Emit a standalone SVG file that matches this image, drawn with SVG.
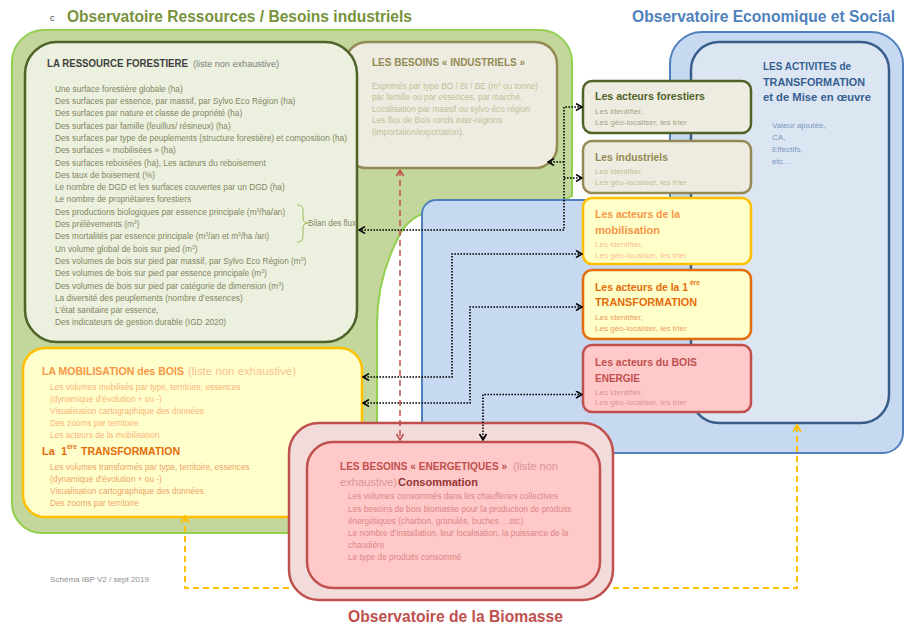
<svg xmlns="http://www.w3.org/2000/svg" width="906" height="625" viewBox="0 0 906 625">
<style>
text{font-family:"Liberation Sans",Arial,sans-serif}
.b{font-weight:bold}
.bd{font-size:8.3px}
.sm{font-size:8.1px}
.hd{font-size:11px;font-weight:bold}
.dot{fill:none;stroke:#000;stroke-width:1.6;stroke-dasharray:1.6 1.4}
.red{fill:none;stroke:#c0504d;stroke-width:1.5;stroke-dasharray:6 4}
.yel{fill:none;stroke:#ffc000;stroke-width:2;stroke-dasharray:6 4}
</style>
<defs>
<marker id="ak" viewBox="0 0 8 8" refX="7" refY="4" markerWidth="8" markerHeight="8" markerUnits="userSpaceOnUse" orient="auto-start-reverse"><path d="M1,0.5 L7,4 L1,7.5" fill="none" stroke="#000" stroke-width="1.5"/></marker>
<marker id="ar" viewBox="0 0 8 8" refX="7" refY="4" markerWidth="8" markerHeight="8" markerUnits="userSpaceOnUse" orient="auto-start-reverse"><path d="M1,0.5 L7,4 L1,7.5" fill="none" stroke="#c0504d" stroke-width="1.5"/></marker>
<marker id="ay" viewBox="0 0 8 8" refX="7" refY="4" markerWidth="9" markerHeight="9" markerUnits="userSpaceOnUse" orient="auto-start-reverse"><path d="M1,0.5 L7,4 L1,7.5" fill="none" stroke="#ffc000" stroke-width="1.6"/></marker>
</defs>
<rect width="906" height="625" fill="#fff"/>

<g id="obs-ressources">
<path d="M12,62 A32,32 0 0 1 44,30 H540 A32,32 0 0 1 572,62 V196 C560,203 545,208 530,211 H437 C417,212 405,222 397,240 C386,262 377,290 377,325 V533 H42 A30,30 0 0 1 12,503 Z" fill="#c3d69b" stroke="#92d050" stroke-width="2"/>
<text x="50" y="21" font-size="9" fill="#404040">c</text>
<text x="67" y="22" font-size="15.6" class="b" fill="#77933c" textLength="345" lengthAdjust="spacingAndGlyphs">Observatoire Ressources / Besoins industriels</text>
</g>

<g id="obs-eco">
<path d="M422,453 V214 A14,14 0 0 1 436,200 H670 V64 A32,32 0 0 1 702,32 H871 A32,32 0 0 1 903,64 V433 A20,20 0 0 1 883,453 Z" fill="#c6d9f1" stroke="#4f81bd" stroke-width="2"/>
<text x="632" y="22" font-size="15.6" class="b" fill="#4f81bd" textLength="263" lengthAdjust="spacingAndGlyphs">Observatoire Economique et Social</text>
</g>

<g id="activites">
<rect x="691" y="42" width="198" height="381" rx="28" fill="#dce6f2" stroke="#385d8a" stroke-width="2.5"/>
<text class="hd" fill="#365f91"><tspan x="763" y="70" textLength="88" lengthAdjust="spacingAndGlyphs">LES ACTIVITES de</tspan><tspan x="763" y="85.5" textLength="102" lengthAdjust="spacingAndGlyphs">TRANSFORMATION</tspan><tspan x="763" y="101" textLength="108" lengthAdjust="spacingAndGlyphs">et de Mise en œuvre</tspan></text>
<text class="sm" fill="#7b97c0"><tspan x="772" y="127.5">Valeur ajoutée,</tspan><tspan x="772" y="139.5">CA,</tspan><tspan x="772" y="151.5">Effectifs,</tspan><tspan x="772" y="164">etc…</tspan></text>
</g>

<g id="besoins-industriels">
<rect x="345" y="42" width="212" height="126" rx="22" fill="#eeece1" stroke="#948a54" stroke-width="2.5"/>
<text x="372" y="66" font-size="11" class="b" fill="#948a54" textLength="153" lengthAdjust="spacingAndGlyphs">LES BESOINS « INDUSTRIELS »</text>
<text class="bd" fill="#c4bd97">
<tspan x="372" y="88.5">Exprimés par type BO / BI / BE (m<tspan dy="-3" font-size="5">3</tspan><tspan dy="3"> ou tonne)</tspan></tspan>
<tspan x="372" y="100">par famille ou par essences, par marché.</tspan>
<tspan x="372" y="111.5">Localisation par massif ou sylvo éco région</tspan>
<tspan x="372" y="123">Les flux de Bois ronds inter-régions</tspan>
<tspan x="372" y="134.5">(importation/exportation).</tspan>
</text>
</g>

<g id="ressource-forestiere">
<rect x="25" y="42" width="332" height="300" rx="32" fill="#ebf1de" stroke="#4f6228" stroke-width="2.5"/>
<text x="47" y="66.5" font-size="10.2" class="b" fill="#3f3f3f" textLength="141" lengthAdjust="spacingAndGlyphs">LA RESSOURCE FORESTIERE</text>
<text x="193" y="66.5" font-size="8.5" fill="#7f7f7f" textLength="86" lengthAdjust="spacingAndGlyphs">(liste non exhaustive)</text>
<text class="bd" fill="#858563">
<tspan x="55" y="91.7">Une surface forestière globale (ha)</tspan>
<tspan x="55" y="104">Des surfaces par essence, par massif, par Sylvo Eco Région (ha)</tspan>
<tspan x="55" y="116.3">Des surfaces par nature et classe de propriété (ha)</tspan>
<tspan x="55" y="128.6">Des surfaces par famille (feuillus/ résineux) (ha)</tspan>
<tspan x="55" y="140.9">Des surfaces par type de peuplements (structure forestière) et composition (ha)</tspan>
<tspan x="55" y="153.2">Des surfaces « mobilisées » (ha)</tspan>
<tspan x="55" y="165.5">Des surfaces reboisées (ha), Les acteurs du reboisement</tspan>
<tspan x="55" y="177.8">Des taux de boisement (%)</tspan>
<tspan x="55" y="190.1">Le nombre de DGD et les surfaces couvertes par un DGD (ha)</tspan>
<tspan x="55" y="202.4">Le nombre de propriétaires forestiers</tspan>
<tspan x="55" y="214.7">Des productions biologiques par essence principale (m<tspan dy="-3" font-size="5">3</tspan><tspan dy="3">/ha/an)</tspan></tspan>
<tspan x="55" y="227">Des prélèvements (m<tspan dy="-3" font-size="5">3</tspan><tspan dy="3">)</tspan></tspan>
<tspan x="55" y="239.3">Des mortalités par essence principale (m<tspan dy="-3" font-size="5">3</tspan><tspan dy="3">/an et m</tspan><tspan dy="-3" font-size="5">3</tspan><tspan dy="3">/ha /an)</tspan></tspan>
<tspan x="55" y="251.6">Un volume global de bois sur pied (m<tspan dy="-3" font-size="5">3</tspan><tspan dy="3">)</tspan></tspan>
<tspan x="55" y="263.9">Des volumes de bois sur pied par massif, par Sylvo Eco Région (m<tspan dy="-3" font-size="5">3</tspan><tspan dy="3">)</tspan></tspan>
<tspan x="55" y="276.2">Des volumes de bois sur pied par essence principale (m<tspan dy="-3" font-size="5">3</tspan><tspan dy="3">)</tspan></tspan>
<tspan x="55" y="288.5">Des volumes de bois sur pied par catégorie de dimension (m<tspan dy="-3" font-size="5">3</tspan><tspan dy="3">)</tspan></tspan>
<tspan x="55" y="300.8">La diversité des peuplements (nombre d’essences)</tspan>
<tspan x="55" y="313.1">L’état sanitaire par essence,</tspan>
<tspan x="55" y="325.4">Des indicateurs de gestion durable (IGD 2020)</tspan>
</text>
<path d="M297,205 Q303,205 303,210 V218 Q303,223 308,223 Q303,223 303,228 V237 Q303,242 297,242" fill="none" stroke="#9bbb59" stroke-width="1"/>
<text x="308" y="225.5" class="bd" fill="#858563" textLength="48" lengthAdjust="spacingAndGlyphs">Bilan des flux</text>
</g>

<g id="mobilisation">
<rect x="23" y="348" width="339" height="169" rx="22" fill="#ffffcc" stroke="#ffc000" stroke-width="2.5"/>
<text x="42" y="375" font-size="10.6" class="b" fill="#f79646" textLength="142" lengthAdjust="spacingAndGlyphs">LA MOBILISATION des BOIS</text>
<text x="188" y="375" font-size="11" fill="#fac090" textLength="108" lengthAdjust="spacingAndGlyphs">(liste non exhaustive)</text>
<text class="bd" fill="#fab37a">
<tspan x="50" y="389.5">Les volumes mobilisés par type, territoire, essences</tspan>
<tspan x="50" y="401.5">(dynamique d’évolution + ou -)</tspan>
<tspan x="50" y="413.5">Visualisation cartographique des données</tspan>
<tspan x="50" y="425.5">Des zooms par territoire</tspan>
<tspan x="50" y="437.5">Les acteurs de la mobilisation</tspan>
</text>
<text y="455" font-size="11" class="b" fill="#e46c0a"><tspan x="42">La</tspan><tspan x="61">1</tspan><tspan x="67" dy="-6" font-size="6.5">ère</tspan><tspan x="81" dy="6" textLength="99" lengthAdjust="spacingAndGlyphs">TRANSFORMATION</tspan></text>
<text class="bd" fill="#eda36a">
<tspan x="50" y="469.5">Les volumes transformés par type, territoire, essences</tspan>
<tspan x="50" y="481.5">(dynamique d’évolution + ou -)</tspan>
<tspan x="50" y="493.5">Visualisation cartographique des données</tspan>
<tspan x="50" y="505.5">Des zooms par territoire</tspan>
</text>
</g>

<g id="acteurs-forestiers">
<rect x="583" y="81" width="168" height="52" rx="9" fill="#eeece1" stroke="#4f6228" stroke-width="2.5"/>
<text x="595" y="100" class="hd" fill="#4f6228" textLength="110" lengthAdjust="spacingAndGlyphs">Les acteurs forestiers</text>
<text class="sm" fill="#a5a585"><tspan x="595" y="114">Les identifier,</tspan><tspan x="595" y="125">Les géo-localiser, les trier</tspan></text>
</g>

<g id="industriels">
<rect x="583" y="141" width="168" height="52" rx="9" fill="#eeece1" stroke="#948a54" stroke-width="2.5"/>
<text x="595" y="160.5" class="hd" fill="#948a54" textLength="73" lengthAdjust="spacingAndGlyphs">Les industriels</text>
<text class="sm" fill="#c4bd97"><tspan x="595" y="174">Les identifier,</tspan><tspan x="595" y="185">Les géo-localiser, les trier</tspan></text>
</g>

<g id="acteurs-mobilisation">
<rect x="583" y="198" width="168" height="66" rx="9" fill="#ffffc9" stroke="#ffc000" stroke-width="2.5"/>
<text class="hd" fill="#f79646"><tspan x="595" y="218" textLength="85" lengthAdjust="spacingAndGlyphs">Les acteurs de la</tspan><tspan x="595" y="233.5" textLength="65" lengthAdjust="spacingAndGlyphs">mobilisation</tspan></text>
<text class="sm" fill="#fac090"><tspan x="595" y="246.5">Les identifier,</tspan><tspan x="595" y="257.5">Les géo-localiser, les trier</tspan></text>
</g>

<g id="acteurs-1ere-transformation">
<rect x="583" y="270" width="168" height="69" rx="9" fill="#ffffc9" stroke="#e46c0a" stroke-width="2.5"/>
<text class="hd" fill="#e46c0a"><tspan x="595" y="291" font-size="10.5" textLength="93" lengthAdjust="spacingAndGlyphs">Les acteurs de la 1</tspan><tspan x="690" dy="-6" font-size="6.5">ère</tspan><tspan x="595" y="306" textLength="102" lengthAdjust="spacingAndGlyphs">TRANSFORMATION</tspan></text>
<text class="sm" fill="#ee9a60"><tspan x="595" y="319.5">Les identifier,</tspan><tspan x="595" y="330.5">Les géo-localiser, les trier</tspan></text>
</g>

<g id="acteurs-bois-energie">
<rect x="583" y="345" width="168" height="67" rx="9" fill="#ffc9c9" stroke="#c0504d" stroke-width="2.5"/>
<text class="hd" fill="#c0504d"><tspan x="595" y="366" textLength="102" lengthAdjust="spacingAndGlyphs">Les acteurs du BOIS</tspan><tspan x="595" y="381.5" textLength="45" lengthAdjust="spacingAndGlyphs">ENERGIE</tspan></text>
<text class="sm" fill="#d99694"><tspan x="595" y="394.5">Les identifier,</tspan><tspan x="595" y="405">Les géo-localiser, les trier</tspan></text>
</g>

<g id="besoins-energetiques">
<rect x="289" y="423" width="324" height="177" rx="30" fill="#f2dcdb" stroke="#c0504d" stroke-width="2.5"/>
<rect x="307" y="442" width="293" height="146" rx="26" fill="#ffc9c9" stroke="#c0504d" stroke-width="2.5"/>
<text x="340" y="470" font-size="10.2" class="b" fill="#c0504d" textLength="167" lengthAdjust="spacingAndGlyphs">LES BESOINS « ENERGETIQUES »</text>
<text x="513" y="470" font-size="11" fill="#d99694" textLength="45" lengthAdjust="spacingAndGlyphs">(liste non</text>
<text x="340" y="486" font-size="11" fill="#d99694" textLength="57" lengthAdjust="spacingAndGlyphs">exhaustive)</text>
<text x="398" y="486" font-size="11" class="b" fill="#943634" textLength="80" lengthAdjust="spacingAndGlyphs">Consommation</text>
<text class="bd" fill="#dc8585">
<tspan x="348" y="499">Les volumes consommés dans les chaufferies collectives</tspan>
<tspan x="348" y="511.5">Les besoins de bois biomasse pour la production de produits</tspan>
<tspan x="348" y="523.5">énergétiques (charbon, granulés, buches …etc)</tspan>
<tspan x="348" y="535.5">Le nombre d’installation, leur localisation, la puissance de la</tspan>
<tspan x="348" y="547.5">chaudière</tspan>
<tspan x="348" y="559.5">Le type de produits consommé</tspan>
</text>
<text x="348" y="621.5" font-size="15.6" class="b" fill="#c0504d" textLength="215" lengthAdjust="spacingAndGlyphs">Observatoire de la Biomasse</text>
</g>

<g id="connectors">
<path class="dot" d="M582,107 H564 V230 H359" marker-start="url(#ak)" marker-end="url(#ak)"/>
<path class="dot" d="M564,178 H582" marker-end="url(#ak)"/>
<path class="dot" d="M564,162 H548" marker-end="url(#ak)"/>
<path class="dot" d="M582,254 H452 V377 H363" marker-start="url(#ak)" marker-end="url(#ak)"/>
<path class="dot" d="M582,307 H470 V403 H363" marker-start="url(#ak)" marker-end="url(#ak)"/>
<path class="dot" d="M582,394.5 H483 V440" marker-start="url(#ak)" marker-end="url(#ak)"/>
<path class="red" d="M400,170 V440" marker-start="url(#ar)" marker-end="url(#ar)"/>
<path class="yel" d="M185,516 V588 H289 M613,588 H797 V425" marker-start="url(#ay)" marker-end="url(#ay)"/>
</g>

<text x="50" y="582" font-size="7.5" fill="#909090" textLength="99" lengthAdjust="spacingAndGlyphs">Schéma IBP V2 / sept 2019</text>
</svg>
